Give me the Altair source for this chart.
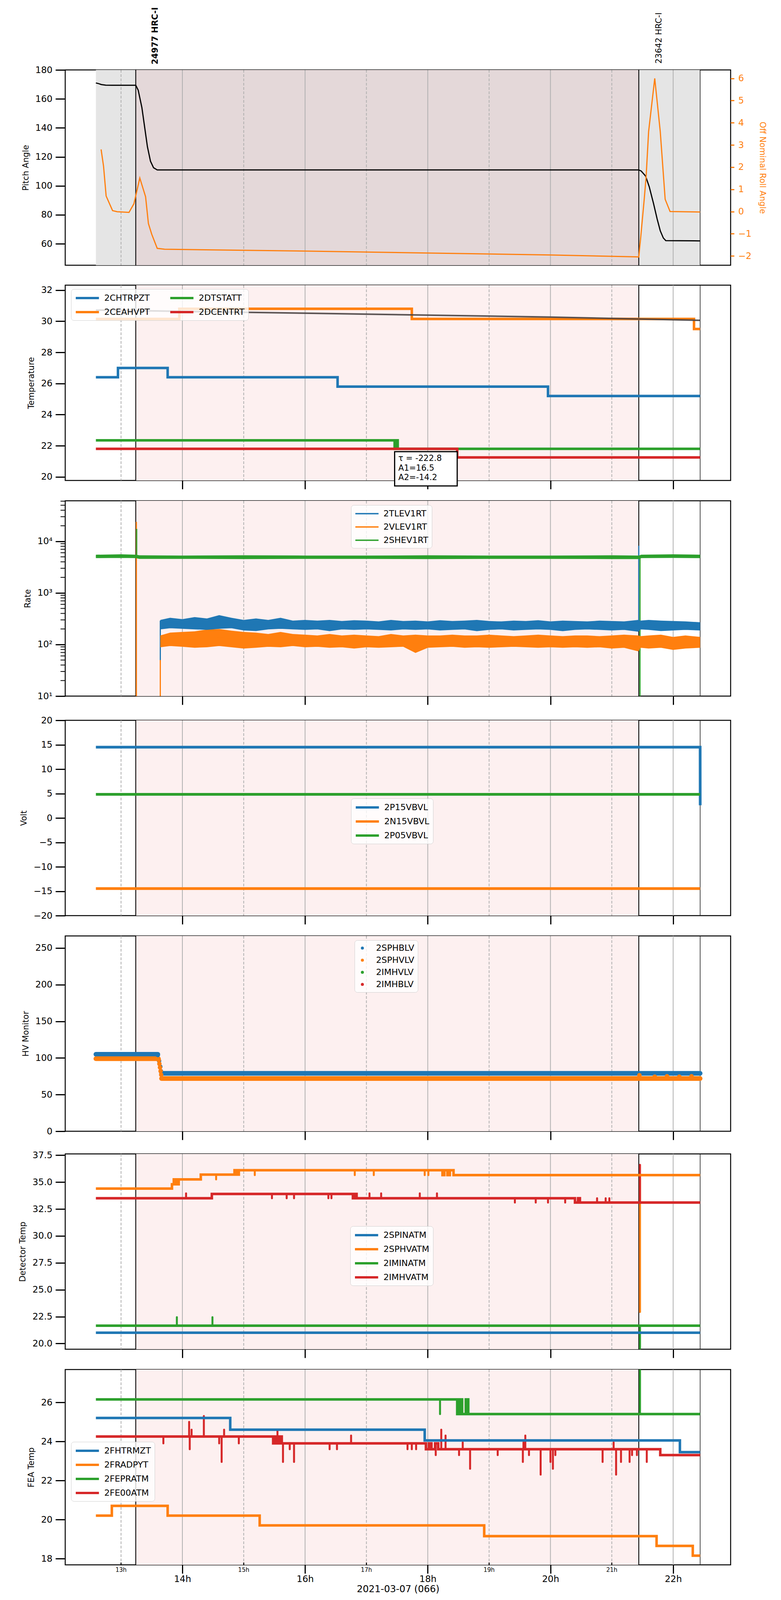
import altair as alt
import pandas as pd

# the photographed page is about 4090 px tall, so the vertical layout is scaled to fit it
W, H = 1704, 500
GAP = 24
X_DOM = [12.09, 22.937]
T0, T_OBS1, T_OBS2, T_END = 12.59, 13.24, 21.44, 22.44
EVEN_H = [14, 16, 18, 20, 22]
ODD_H = [13, 15, 17, 19, 21]
BLUE, ORANGE, GREEN, RED = "#1f77b4", "#ff7f0e", "#2ca02c", "#d62728"
FONT = "DejaVu Sans"
TICK_FS, TITLE_FS, LEG_FS = 23, 21, 22
LINE_SYM = "M-1,0H4.4"   # wide legend line, drawn from the entry's left edge

# ---- panel 1: pitch / roll
pitch_t = [12.59, 12.63, 12.68, 12.75, 12.85, 13.24, 13.28, 13.34, 13.38, 13.43, 13.48, 13.53, 13.59,
           21.44, 21.48, 21.55, 21.61, 21.68, 21.74, 21.79, 21.84, 21.88, 22.44]
pitch_v = [171.0, 170.6, 169.9, 169.5, 169.4, 169.4, 166.0, 154.0, 142.0, 127.0, 117.0, 112.5, 111.0,
           111.0, 110.2, 106.8, 99.4, 87.8, 77.0, 69.0, 64.0, 62.2, 62.0]
roll_t = [12.675, 12.715, 12.757, 12.814, 12.862, 12.937, 13.13, 13.21, 13.306, 13.40, 13.446, 13.50,
          13.59, 13.71, 16.0, 18.0, 20.0, 21.40, 21.44, 21.47, 21.50, 21.53, 21.56, 21.60, 21.70,
          21.79, 21.87, 21.95, 22.44]
roll_v = [2.8, 2.04, 0.70, 0.34, 0.04, -0.01, -0.04, 0.35, 1.51, 0.67, -0.54, -1.02,
          -1.66, -1.70, -1.78, -1.87, -1.96, -2.04, -2.05, -1.2, -0.3, 0.6, 1.6, 3.6, 6.0,
          3.6, 0.55, 0.0, -0.02]
obs_labels = ["24977 HRC-I", "23642 HRC-I"]

# ---- panel 2: temperature
temp_names = ["2CHTRPZT", "2CEAHVPT", "2DTSTATT", "2DCENTRT"]
temp_colors = [BLUE, ORANGE, GREEN, RED]
chtrpzt_t = [12.59, 12.95, 13.76, 16.53, 19.96, 22.44]
chtrpzt_v = [26.4, 27.0, 26.4, 25.8, 25.2, 25.2]
ceahvpt_t = [12.59, 13.95, 17.74, 22.34, 22.44]
ceahvpt_v = [30.15, 30.8, 30.15, 29.5, 29.5]
dtstatt_t = [12.59, 17.46, 17.48, 17.51, 22.44]
dtstatt_v = [22.35, 21.8, 22.35, 21.8, 21.8]
dcentrt_t = [12.59, 18.48, 22.44]
dcentrt_v = [21.8, 21.25, 21.25]
fit_t = [12.59, 16.0, 20.0, 22.44]
fit_v = [30.72, 30.52, 30.27, 30.06]
ann_box_t = [17.46, 18.48]
ann_box_v = [21.62, 19.42]
ann_lines = ["\u03c4 = -222.8", "A1=16.5", "A2=-14.2"]
ann_y = [21.17, 20.56, 19.95]
ann_x = 17.52

# ---- panel 3: rates (noisy bands as low/high envelopes)
rate_names = ["2TLEV1RT", "2VLEV1RT", "2SHEV1RT"]
rate_t = [13.64, 13.8, 14.0, 14.2, 14.4, 14.6, 14.8, 15.0, 15.2, 15.4, 15.6, 15.8, 16.0, 16.2, 16.4,
          16.6, 16.8, 17.0, 17.2, 17.4, 17.6, 17.8, 18.0, 18.2, 18.4, 18.6, 18.8, 19.0, 19.2, 19.4,
          19.6, 19.8, 20.0, 20.2, 20.4, 20.6, 20.8, 21.0, 21.2, 21.43, 21.47, 21.6, 21.8, 22.0, 22.2,
          22.44]
tlev_hi = [300, 330, 310, 340, 320, 370, 330, 300, 320, 300, 330, 290, 300, 290, 300, 285, 295, 290,
           280, 300, 285, 290, 280, 295, 285, 290, 300, 285, 280, 290, 285, 295, 280, 290, 285, 280,
           290, 285, 280, 300, 290, 300, 290, 285, 280, 270]
tlev_lo = [200, 210, 205, 200, 195, 205, 210, 190, 185, 200, 205, 200, 195, 200, 185, 200, 195, 200,
           195, 190, 200, 195, 200, 190, 195, 200, 185, 195, 200, 190, 195, 200, 195, 185, 195, 200,
           195, 190, 195, 180, 200, 195, 185, 190, 195, 190]
vlev_hi = [150, 170, 175, 180, 195, 200, 185, 175, 170, 160, 175, 160, 155, 150, 160, 150, 155, 150,
           145, 160, 150, 155, 150, 150, 155, 150, 150, 155, 150, 145, 150, 155, 150, 145, 150, 150,
           145, 150, 155, 150, 145, 150, 155, 140, 150, 140]
vlev_lo = [90, 95, 92, 88, 90, 95, 90, 85, 88, 92, 90, 95, 90, 92, 88, 90, 85, 90, 88, 90, 92, 70, 88,
           90, 92, 88, 90, 88, 90, 92, 90, 88, 90, 88, 90, 88, 90, 85, 88, 75, 88, 85, 88, 80, 85, 88]
shev_t = [12.59, 13.0, 13.24, 13.3, 14.0, 15.0, 16.0, 17.0, 18.0, 19.0, 20.0, 21.0, 21.44, 21.48,
          22.0, 22.44]
shev_hi = [5500, 5600, 5500, 5350, 5300, 5350, 5300, 5300, 5350, 5300, 5300, 5350, 5300, 5500, 5600,
           5500]
shev_lo = [4800, 4850, 4800, 4650, 4650, 4600, 4650, 4650, 4600, 4650, 4650, 4600, 4600, 4800, 4850,
           4800]
rate_jump_t = [13.25, 13.255, 13.64, 13.64, 21.44, 21.46]
rate_jump_lo = [10, 5000, 10, 50, 200, 10]
rate_jump_hi = [23800, 17400, 150, 290, 8200, 5000]
rate_jump_c = [ORANGE, GREEN, ORANGE, BLUE, BLUE, GREEN]
rate_ticks = [10, 100, 1000, 10000]
rate_minor = [20, 30, 40, 50, 60, 70, 80, 90, 200, 300, 400, 500, 600, 700, 800, 900,
              2000, 3000, 4000, 5000, 6000, 7000, 8000, 9000, 20000, 30000, 40000, 50000, 60000]

# ---- panel 4: volts
volt_names = ["2P15VBVL", "2N15VBVL", "2P05VBVL"]
p15_t = [12.59, 22.44, 22.441]
p15_v = [14.5, 14.5, 2.6]
n15_t = [12.59, 22.44]
n15_v = [-14.45, -14.45]
p05_t = [12.59, 22.44]
p05_v = [4.85, 4.85]

# ---- panel 5: HV monitor
hv_names = ["2SPHBLV", "2SPHVLV", "2IMHVLV", "2IMHBLV"]
sphblv_seg_t = [[12.59, 13.60], [13.66, 22.44]]
sphblv_seg_v = [105, 79]
sphvlv_seg_t = [[12.59, 13.61], [13.66, 22.44]]
sphvlv_seg_v = [99, 72]
sphblv_pt_t = [13.60, 13.62, 13.64, 13.65]
sphblv_pt_v = [104, 96, 88, 82]
sphvlv_pt_t = [13.615, 13.625, 13.635, 13.645, 13.655, 21.45, 21.7, 21.9, 22.1, 22.3]
sphvlv_pt_v = [97, 92, 87, 82, 77, 76.5, 74.5, 75, 74.5, 75]

# ---- panel 6: detector temps
det_names = ["2SPINATM", "2SPHVATM", "2IMINATM", "2IMHVATM"]
spinatm_t = [12.59, 22.44]
spinatm_v = [21.0, 21.0]
sphvatm_t = [12.59, 13.83, 13.86, 13.90, 13.94, 14.30, 14.85, 14.88, 14.92, 18.24, 18.27, 18.32,
             18.36, 18.42, 22.44]
sphvatm_v = [34.4, 34.8, 35.25, 34.8, 35.25, 35.7, 36.1, 35.7, 36.1, 35.65, 36.1, 35.65, 36.1,
             35.65, 35.65]
iminatm_t = [12.59, 22.44]
iminatm_v = [21.66, 21.66]
imhvatm_t = [12.59, 14.48, 16.78, 16.81, 16.84, 20.40, 20.45, 20.48, 22.44]
imhvatm_v = [33.5, 33.9, 33.5, 33.9, 33.5, 33.1, 33.5, 33.1, 33.1]
sphvatm_sp_t = [14.55, 15.18, 16.81, 17.12, 17.95, 18.01, 21.46]
sphvatm_sp_v = [35.25, 35.65, 35.65, 35.65, 35.65, 35.65, 22.94]
iminatm_sp_t = [13.91, 14.49, 21.46]
iminatm_sp_v = [22.45, 22.45, 18.0]
imhvatm_sp_t = [14.06, 15.46, 15.70, 15.82, 16.38, 16.43, 17.05, 17.24, 17.87, 18.15, 19.42, 19.76,
                19.96, 20.24, 20.76, 20.90, 20.96, 21.46]
imhvatm_sp_v = [33.95, 33.5, 33.5, 33.5, 33.5, 33.5, 33.95, 33.95, 33.95, 33.95, 33.1, 33.1, 33.1,
                33.1, 33.5, 33.5, 33.5, 36.6]

# ---- panel 7: FEA temps
fea_names = ["2FHTRMZT", "2FRADPYT", "2FEPRATM", "2FE00ATM"]
fhtrmzt_t = [12.59, 14.78, 17.95, 22.11, 22.44]
fhtrmzt_v = [25.2, 24.6, 24.05, 23.45, 23.45]
fradpyt_t = [12.59, 12.85, 13.76, 15.26, 18.92, 21.73, 22.32, 22.44]
fradpyt_v = [20.2, 20.7, 20.2, 19.7, 19.15, 18.65, 18.15, 18.15]
fepratm_t = [12.59, 18.48, 18.52, 18.56, 18.62, 18.66, 22.44]
fepratm_v = [26.15, 25.4, 26.15, 25.4, 26.15, 25.4, 25.4]
fe00atm_t = [12.59, 15.48, 15.52, 15.55, 15.58, 15.62, 17.97, 18.02, 18.06, 18.12, 18.17, 21.79, 22.44]
fe00atm_v = [24.25, 23.9, 24.25, 23.9, 24.25, 23.9, 23.6, 23.9, 23.6, 23.9, 23.6, 23.3, 23.3]
fepratm_sp_t = [18.20, 21.46]
fepratm_sp_v = [25.4, 28.5]
fe00atm_sp_t = [13.69, 14.11, 14.12, 14.15, 14.35, 14.60, 14.64, 14.68, 14.92, 15.55, 15.64, 15.75,
                15.82, 16.40, 16.52, 16.75, 17.67, 17.74, 17.81, 18.13, 18.22, 18.29, 18.51, 18.57,
                18.69, 19.14, 19.55, 19.56, 19.59, 19.65, 19.84, 20.00, 20.04, 20.08, 20.85, 21.03,
                21.07, 21.15, 21.29, 21.33, 21.41, 21.57]
fe00atm_sp_v = [23.9, 25.0, 23.6, 24.6, 25.3, 23.9, 22.95, 24.6, 23.9, 24.6, 22.95, 23.6,
                22.95, 23.6, 23.6, 24.3, 23.6, 23.6, 23.6, 23.3, 24.6, 24.3, 23.3, 23.95,
                22.6, 23.3, 22.95, 23.95, 24.3, 23.3, 22.3, 22.95, 22.6, 23.3, 22.95, 23.95,
                22.3, 22.95, 22.95, 23.3, 23.3, 22.95]


def step_at(ts, vs, t):
    val = vs[0]
    for a, b in zip(ts, vs):
        if a <= t:
            val = b
    return val


def X(field, axis):
    return alt.X(f"{field}:Q", scale=alt.Scale(domain=X_DOM, nice=False, zero=False), axis=axis)


def x_axis(first=False, bottom=False):
    if first:
        # same extent as the other panels, ticks hidden
        return alt.Axis(values=EVEN_H, tickSize=22, tickWidth=3, tickOpacity=0, labels=False,
                        domain=False, grid=False, title=None)
    if bottom:
        return alt.Axis(values=EVEN_H, labelExpr="datum.value + 'h'", tickSize=22, tickWidth=3,
                        tickColor="black", labelFontSize=23, labelPadding=3, domain=False, grid=False,
                        title="2021-03-07 (066)", titleFontSize=24, titlePadding=2)
    return alt.Axis(values=EVEN_H, tickSize=22, tickWidth=3, tickColor="black", labels=False,
                    domain=False, grid=False, title=None)


def y_axis(title, values, fmt=None, expr=None):
    kw = dict(values=values, title=title, tickSize=25, tickWidth=3, tickColor="black",
              labelFontSize=TICK_FS, labelPadding=8, titleFontSize=TITLE_FS, titlePadding=14,
              domain=False, grid=False)
    if fmt:
        kw["format"] = fmt
    if expr:
        kw["labelExpr"] = expr
    return alt.Axis(**kw)


def legend(x, y, sym=LINE_SYM, size=484, width=6, cols=1, rowpad=10, offset=48):
    return alt.Legend(title=None, orient="none", legendX=x, legendY=y, columns=cols,
                      symbolType=sym, symbolSize=size, symbolStrokeWidth=width,
                      labelFontSize=LEG_FS, rowPadding=rowpad, columnPadding=40, labelOffset=offset,
                      padding=9, fillColor="rgba(255,255,255,0.8)", strokeColor="#d0d0d0",
                      cornerRadius=7)


def frame(xa, first=False, bottom=False):
    if first:
        shade = pd.DataFrame({"t0": [T0, T_OBS1, T_OBS2], "t1": [T_OBS1, T_OBS2, T_END],
                              "c": ["#e5e5e5", "#e4d8d9", "#e5e5e5"]})
    else:
        shade = pd.DataFrame({"t0": [T_OBS1], "t1": [T_OBS2], "c": ["#fdf0f0"]})
    layers = [
        alt.Chart(shade).mark_rect().encode(
            x=X("t0", xa), x2="t1:Q", y=alt.value(0), y2=alt.value(H),
            color=alt.Color("c:N", scale=None)),
        alt.Chart(pd.DataFrame({"t": EVEN_H})).mark_rule(color="#b0b0b0", strokeWidth=2).encode(
            x=X("t", xa)),
        alt.Chart(pd.DataFrame({"t": ODD_H})).mark_rule(
            color="#b0b0b0", strokeWidth=2, strokeDash=[7, 4]).encode(x=X("t", xa)),
        alt.Chart(pd.DataFrame({"t": [T_OBS1, T_OBS2]})).mark_rule(
            color="black", strokeWidth=2.2).encode(x=X("t", xa)),
        alt.Chart(pd.DataFrame({"t": [T_END]})).mark_rule(
            color="#222222", strokeWidth=1.6).encode(x=X("t", xa)),
    ]
    if bottom:
        odd = pd.DataFrame({"t": ODD_H, "lab": [f"{h}h" for h in ODD_H]})
        layers.append(alt.Chart(odd).mark_rule(color="black", strokeWidth=2.5).encode(
            x=X("t", xa), y=alt.value(H - 6), y2=alt.value(H)))
        layers.append(alt.Chart(odd).mark_text(fontSize=15, baseline="top", font=FONT).encode(
            x=X("t", xa), y=alt.value(H + 6), text="lab:N"))
    return layers


def spikes(xa, yscale, items, width=5):
    rows = []
    for ts, base_t, base_v, vals, color in items:
        for t, v in zip(ts, vals):
            rows.append({"t": t, "v0": step_at(base_t, base_v, t), "v1": v, "c": color})
    df = pd.DataFrame(rows)
    return alt.Chart(df).mark_rule(strokeWidth=width, strokeCap="round", clip=True).encode(
        x=X("t", xa), y=alt.Y("v0:Q", scale=yscale), y2="v1:Q",
        color=alt.Color("c:N", scale=None))


def long_df(series):
    rows = []
    for name, (ts, vs) in series.items():
        for t, v in zip(ts, vs):
            rows.append({"t": t, "v": v, "s": name})
    return pd.DataFrame(rows)


# ================= panel 1
xa1 = x_axis(first=True)
ys_pitch = alt.Scale(domain=[45.2, 180], nice=False, zero=False)
ys_roll = alt.Scale(domain=[-2.42, 6.38], nice=False, zero=False)
pitch_df = pd.DataFrame({"t": pitch_t, "v": pitch_v})
roll_df = pd.DataFrame({"t": roll_t, "v": roll_v})
obs_df1 = pd.DataFrame({"t": [T_OBS1], "lab": [obs_labels[0]]})
obs_df2 = pd.DataFrame({"t": [T_OBS2], "lab": [obs_labels[1]]})

p1_left = alt.layer(
    *frame(xa1, first=True),
    alt.Chart(pitch_df).mark_line(color="black", strokeWidth=3).encode(
        x=X("t", xa1), y=alt.Y("v:Q", scale=ys_pitch,
                               axis=y_axis("Pitch Angle", [60, 80, 100, 120, 140, 160, 180]))),
    alt.Chart(obs_df1).mark_text(angle=270, align="left", baseline="middle", dy=50, fontSize=21,
                                 fontWeight="bold", font=FONT).encode(
        x=X("t", xa1), y=alt.value(-14), text="lab:N"),
    alt.Chart(obs_df2).mark_text(angle=270, align="left", baseline="middle", dy=52, fontSize=21,
                                 font=FONT).encode(
        x=X("t", xa1), y=alt.value(-16), text="lab:N"),
)
p1_right = alt.Chart(roll_df).mark_line(color=ORANGE, strokeWidth=3).encode(
    x=X("t", xa1),
    y=alt.Y("v:Q", scale=ys_roll,
            axis=alt.Axis(orient="right", values=[-2, -1, 0, 1, 2, 3, 4, 5, 6],
                          title="Off Nominal Roll Angle", tickSize=9, tickWidth=3,
                          tickColor=ORANGE, labelColor=ORANGE, titleColor=ORANGE,
                          labelFontSize=TICK_FS, labelPadding=10, titleFontSize=TITLE_FS,
                          titlePadding=18, domain=False, grid=False)))
p1 = alt.layer(p1_left, p1_right).resolve_scale(y="independent").properties(width=W, height=H)

# ================= panel 2
xa = x_axis()
ys2 = alt.Scale(domain=[19.77, 32.32], nice=False, zero=False)
ya2 = y_axis("Temperature", [20, 22, 24, 26, 28, 30, 32])
temp_df = long_df({"2CHTRPZT": (chtrpzt_t, chtrpzt_v), "2CEAHVPT": (ceahvpt_t, ceahvpt_v),
                   "2DTSTATT": (dtstatt_t, dtstatt_v), "2DCENTRT": (dcentrt_t, dcentrt_v)})
box_df = pd.DataFrame({"t0": [ann_box_t[0]], "t1": [ann_box_t[1]],
                       "v0": [ann_box_v[0]], "v1": [ann_box_v[1]]})
ann_df = pd.DataFrame({"t": [ann_x] * 3, "v": ann_y, "lab": ann_lines})
p2 = alt.layer(
    *frame(xa),
    alt.Chart(temp_df).mark_line(interpolate="step-after", strokeWidth=6.5).encode(
        x=X("t", xa), y=alt.Y("v:Q", scale=ys2, axis=ya2),
        color=alt.Color("s:N", scale=alt.Scale(domain=temp_names, range=temp_colors),
                        legend=legend(15, 10, cols=2))),
    alt.Chart(pd.DataFrame({"t": fit_t, "v": fit_v})).mark_line(
        color="#4a4444", strokeWidth=4, opacity=0.9).encode(x=X("t", xa), y=alt.Y("v:Q", scale=ys2)),
    alt.Chart(box_df).mark_rect(fill="white", stroke="black", strokeWidth=3).encode(
        x=X("t0", xa), x2="t1:Q", y=alt.Y("v0:Q", scale=ys2), y2="v1:Q"),
    alt.Chart(ann_df).mark_text(align="left", baseline="middle", fontSize=21, font=FONT).encode(
        x=X("t", xa), y=alt.Y("v:Q", scale=ys2), text="lab:N"),
).properties(width=W, height=H)

# ================= panel 3
ys3 = alt.Scale(type="log", domain=[10, 61000], nice=False)
ya3 = y_axis("Rate", rate_ticks,
             expr="datum.value == 10 ? '10\u00b9' : datum.value == 100 ? '10\u00b2' : "
                  "datum.value == 1000 ? '10\u00b3' : '10\u2074'")
band_layers = []
for ts, lo, hi, c in [(shev_t, shev_lo, shev_hi, GREEN), (rate_t, vlev_lo, vlev_hi, ORANGE),
                      (rate_t, tlev_lo, tlev_hi, BLUE)]:
    bdf = pd.DataFrame({"t": ts, "lo": lo, "hi": hi})
    band_layers.append(alt.Chart(bdf).mark_area(color=c, opacity=1,
                                                line={"color": c, "strokeWidth": 2}).encode(
        x=X("t", xa), y=alt.Y("lo:Q", scale=ys3), y2="hi:Q"))
mid_df = long_df({
    "2TLEV1RT": (rate_t, [(a * b) ** 0.5 for a, b in zip(tlev_lo, tlev_hi)]),
    "2VLEV1RT": (rate_t, [(a * b) ** 0.5 for a, b in zip(vlev_lo, vlev_hi)]),
    "2SHEV1RT": (shev_t, [(a * b) ** 0.5 for a, b in zip(shev_lo, shev_hi)]),
})
jump_df = pd.DataFrame({"t": rate_jump_t, "v0": rate_jump_lo, "v1": rate_jump_hi, "c": rate_jump_c})
minor_df = pd.DataFrame({"v": rate_minor})
p3 = alt.layer(
    *frame(xa),
    alt.Chart(jump_df).mark_rule(strokeWidth=3, clip=True).encode(
        x=X("t", xa), y=alt.Y("v0:Q", scale=ys3, axis=ya3), y2="v1:Q",
        color=alt.Color("c:N", scale=None)),
    *band_layers,
    alt.Chart(mid_df).mark_line(strokeWidth=2).encode(
        x=X("t", xa), y=alt.Y("v:Q", scale=ys3),
        color=alt.Color("s:N", scale=alt.Scale(domain=rate_names, range=[BLUE, ORANGE, GREEN]),
                        legend=legend(732, 11, width=3.5))),
    alt.Chart(minor_df).mark_rule(color="black", strokeWidth=2).encode(
        y=alt.Y("v:Q", scale=ys3), x=alt.value(-12), x2=alt.value(0)),
).properties(width=W, height=H)

# ================= panel 4
ys4 = alt.Scale(domain=[-20, 20], nice=False, zero=False)
ya4 = y_axis("Volt", [-20, -15, -10, -5, 0, 5, 10, 15, 20])
volt_df = long_df({"2P15VBVL": (p15_t, p15_v), "2N15VBVL": (n15_t, n15_v),
                   "2P05VBVL": (p05_t, p05_v)})
p4 = alt.layer(
    *frame(xa),
    alt.Chart(volt_df).mark_line(strokeWidth=7).encode(
        x=X("t", xa), y=alt.Y("v:Q", scale=ys4, axis=ya4),
        color=alt.Color("s:N", scale=alt.Scale(domain=volt_names, range=[BLUE, ORANGE, GREEN]),
                        legend=legend(732, 200))),
).properties(width=W, height=H)

# ================= panel 5
ys5 = alt.Scale(domain=[0, 266.5], nice=False, zero=False)
ya5 = y_axis("HV Monitor", [0, 50, 100, 150, 200, 250])
seg_rows = []
for k, (ts, v) in enumerate(zip(sphblv_seg_t, sphblv_seg_v)):
    seg_rows += [{"t": t, "v": v, "g": f"b{k}", "c": BLUE} for t in ts]
for k, (ts, v) in enumerate(zip(sphvlv_seg_t, sphvlv_seg_v)):
    seg_rows += [{"t": t, "v": v, "g": f"o{k}", "c": ORANGE} for t in ts]
seg_df = pd.DataFrame(seg_rows)
hv_pts = long_df({"2SPHBLV": (sphblv_pt_t, sphblv_pt_v), "2SPHVLV": (sphvlv_pt_t, sphvlv_pt_v)})
p5 = alt.layer(
    *frame(xa),
    alt.Chart(seg_df).mark_line(strokeWidth=12, strokeCap="round").encode(
        x=X("t", xa), y=alt.Y("v:Q", scale=ys5, axis=ya5), detail="g:N",
        color=alt.Color("c:N", scale=None)),
    alt.Chart(hv_pts).mark_circle(size=130, opacity=1).encode(
        x=X("t", xa), y=alt.Y("v:Q", scale=ys5),
        color=alt.Color("s:N", scale=alt.Scale(domain=hv_names, range=[BLUE, ORANGE, GREEN, RED]),
                        legend=legend(741, 11, sym="circle", size=60, width=0, rowpad=9,
                                      offset=24))),
).properties(width=W, height=H)

# ================= panel 6
ys6 = alt.Scale(domain=[19.47, 37.62], nice=False, zero=False)
ya6 = y_axis("Detector Temp", [20, 22.5, 25, 27.5, 30, 32.5, 35, 37.5], fmt=".1f")
det_df = long_df({"2SPINATM": (spinatm_t, spinatm_v), "2SPHVATM": (sphvatm_t, sphvatm_v),
                  "2IMINATM": (iminatm_t, iminatm_v), "2IMHVATM": (imhvatm_t, imhvatm_v)})
p6 = alt.layer(
    *frame(xa),
    spikes(xa, ys6, [(sphvatm_sp_t, sphvatm_t, sphvatm_v, sphvatm_sp_v, ORANGE),
                     (iminatm_sp_t, iminatm_t, iminatm_v, iminatm_sp_v, GREEN),
                     (imhvatm_sp_t, imhvatm_t, imhvatm_v, imhvatm_sp_v, RED)]),
    alt.Chart(det_df).mark_line(interpolate="step-after", strokeWidth=6.5).encode(
        x=X("t", xa), y=alt.Y("v:Q", scale=ys6, axis=ya6),
        color=alt.Color("s:N", scale=alt.Scale(domain=det_names, range=[BLUE, ORANGE, GREEN, RED]),
                        legend=legend(730, 185))),
).properties(width=W, height=H)

# ================= panel 7
xa7 = x_axis(bottom=True)
ys7 = alt.Scale(domain=[17.68, 27.68], nice=False, zero=False)
ya7 = y_axis("FEA Temp", [18, 20, 22, 24, 26])
fea_df = long_df({"2FHTRMZT": (fhtrmzt_t, fhtrmzt_v), "2FRADPYT": (fradpyt_t, fradpyt_v),
                  "2FEPRATM": (fepratm_t, fepratm_v), "2FE00ATM": (fe00atm_t, fe00atm_v)})
p7 = alt.layer(
    *frame(xa7, bottom=True),
    spikes(xa7, ys7, [(fepratm_sp_t, fepratm_t, fepratm_v, fepratm_sp_v, GREEN),
                      (fe00atm_sp_t, fe00atm_t, fe00atm_v, fe00atm_sp_v, RED)]),
    alt.Chart(fea_df).mark_line(interpolate="step-after", strokeWidth=6.5).encode(
        x=X("t", xa7), y=alt.Y("v:Q", scale=ys7, axis=ya7),
        color=alt.Color("s:N", scale=alt.Scale(domain=fea_names, range=[BLUE, ORANGE, GREEN, RED]),
                        legend=legend(15, 185))),
).properties(width=W, height=H)

chart = alt.vconcat(p1, p2, p3, p4, p5, p6, p7, spacing=GAP).resolve_scale(
    color="independent", x="independent", y="independent"
).configure(
    font=FONT, padding={"left": 38, "top": 9, "right": 10, "bottom": 0}
).configure_view(
    stroke="black", strokeWidth=2.5
).configure_axis(
    labelFont=FONT, titleFont=FONT, titleFontWeight="normal", labelColor="black", titleColor="black"
).configure_legend(
    labelFont=FONT, labelColor="black"
)

chart.save("out.html", embed_options={"renderer": "svg", "actions": False})
